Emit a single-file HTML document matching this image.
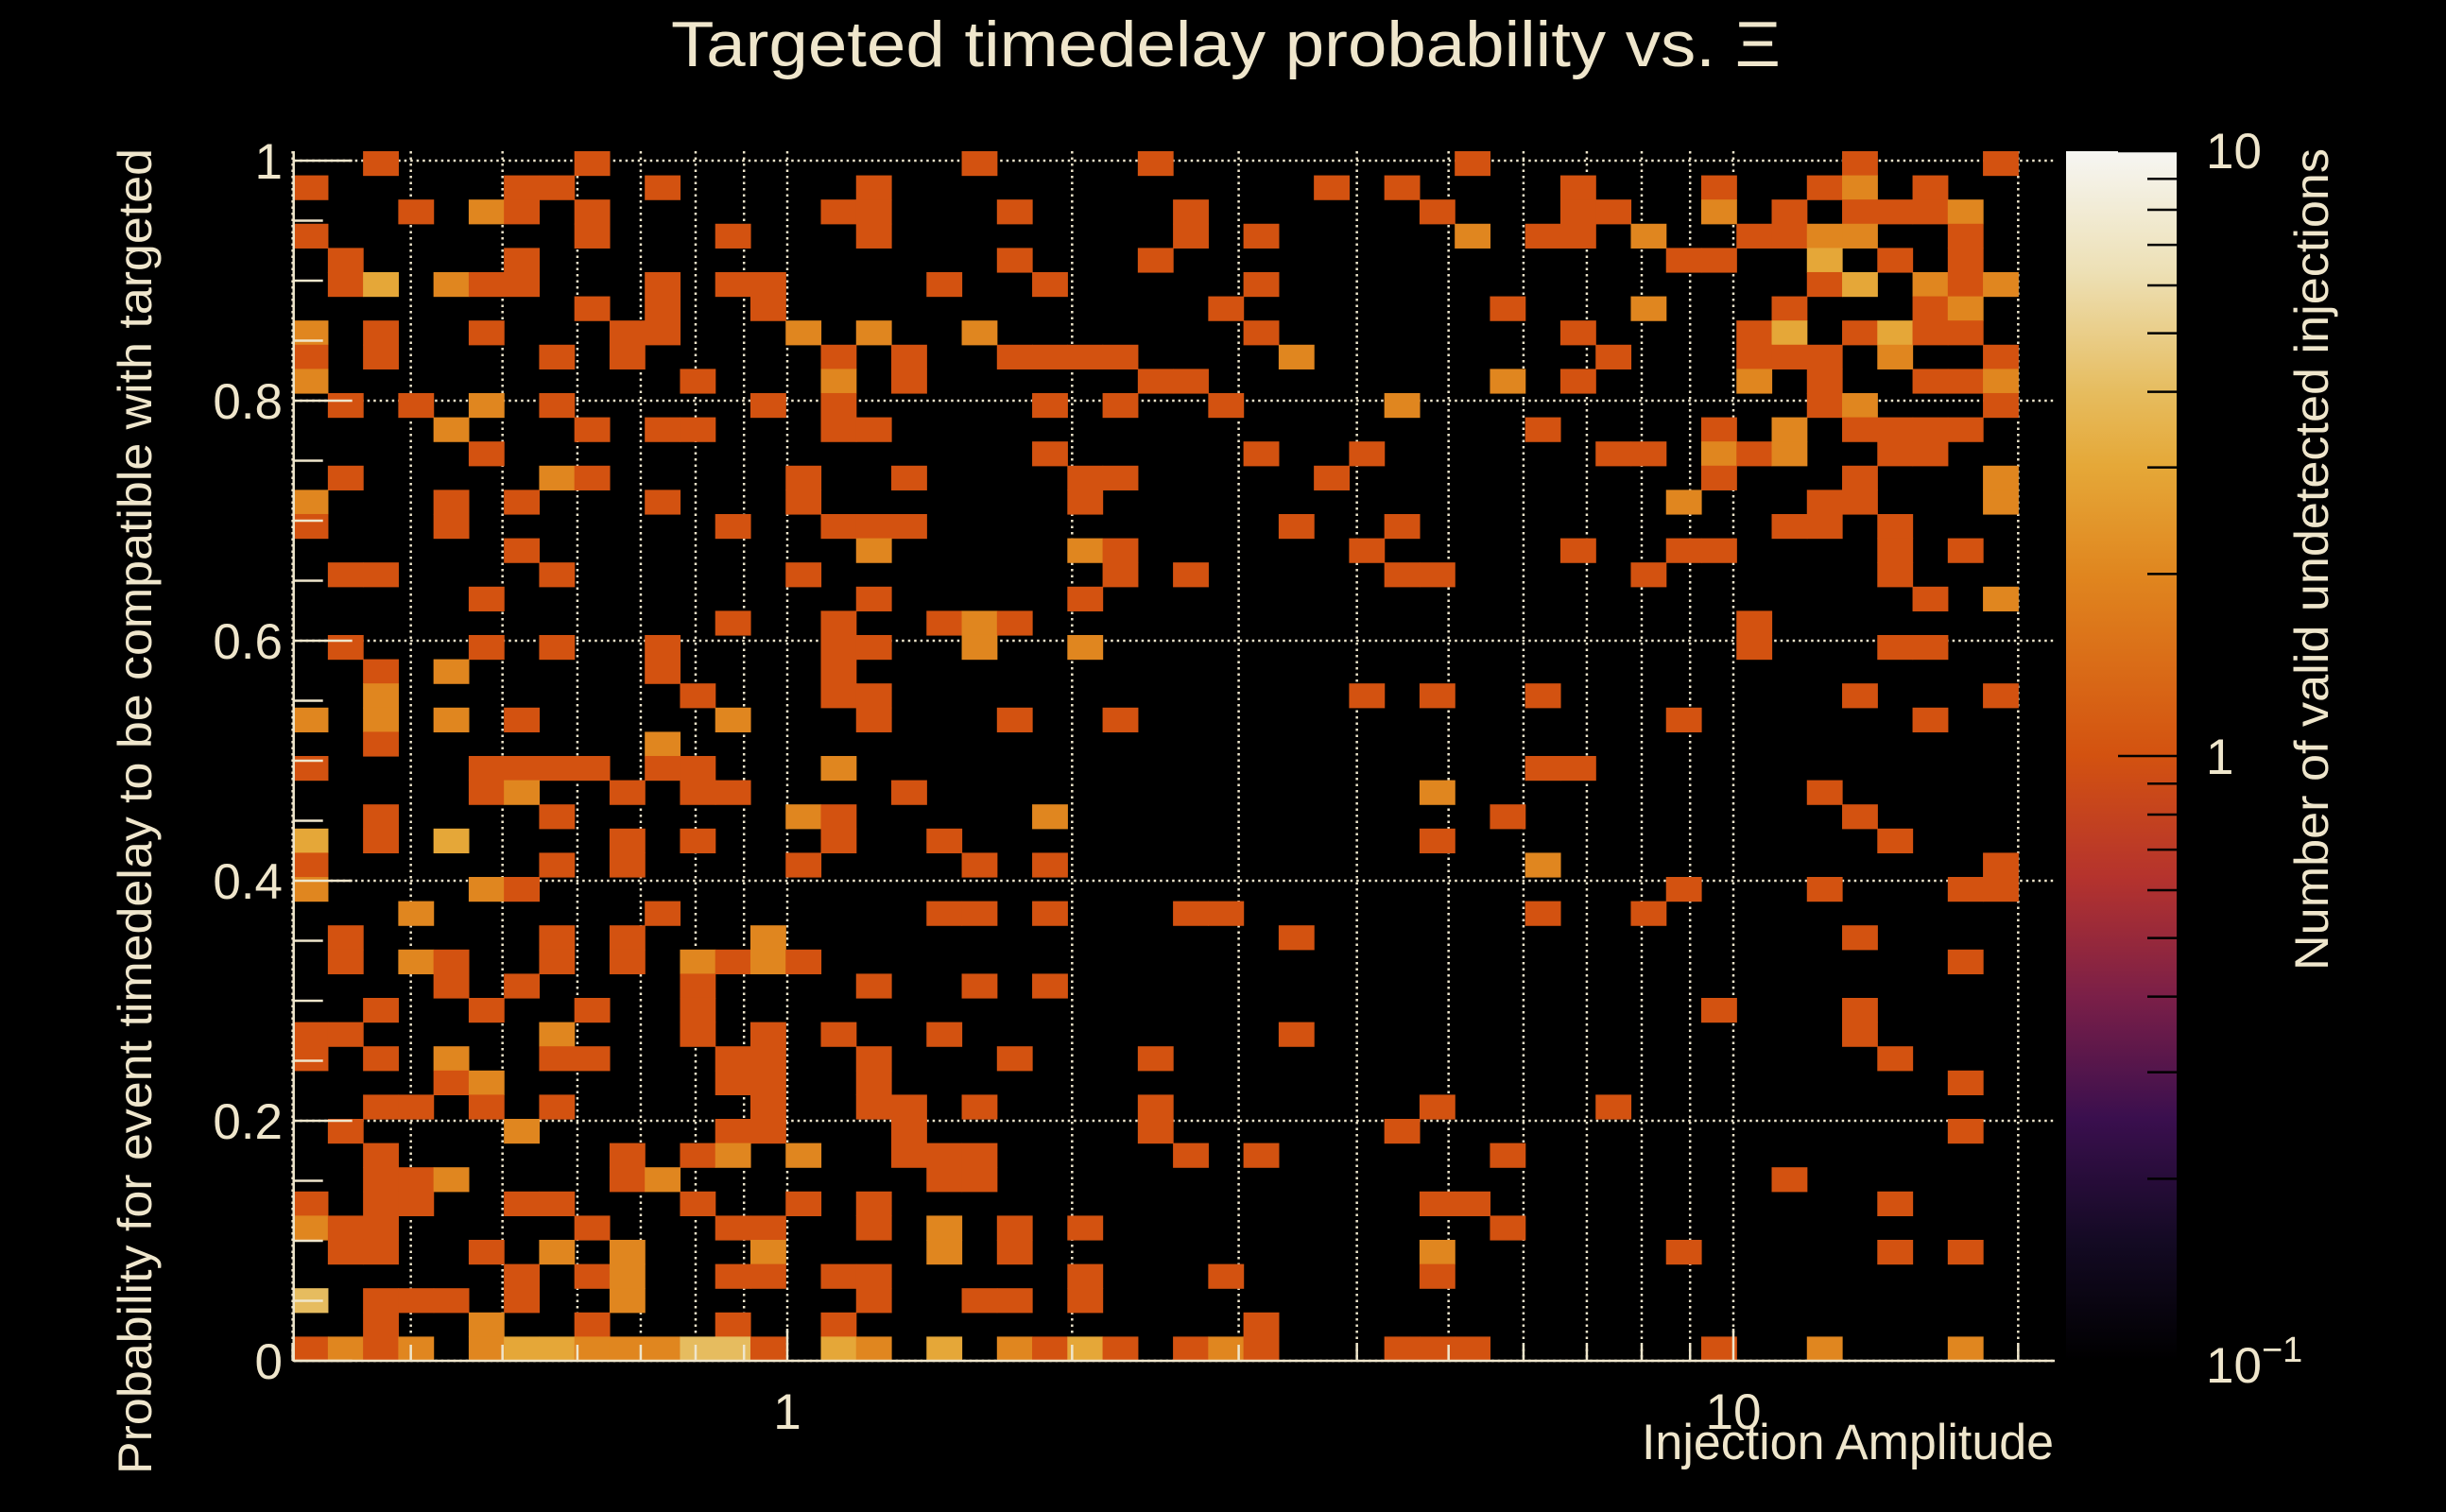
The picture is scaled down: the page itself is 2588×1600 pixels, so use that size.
<!DOCTYPE html>
<html><head><meta charset="utf-8"><title>Targeted timedelay probability</title>
<style>html,body{margin:0;padding:0;background:#000;}svg{display:block;}text{font-family:"Liberation Sans",sans-serif;fill:#efe6cc;}</style>
</head><body>
<svg id="chart" width="2588" height="1600" viewBox="0 0 2588 1600" xmlns="http://www.w3.org/2000/svg">
<rect x="0" y="0" width="2588" height="1600" fill="#000"/>
<defs>
<linearGradient id="cbar" x1="0" y1="1" x2="0" y2="0">
<stop offset="0" stop-color="#000000"/><stop offset="0.1" stop-color="#140a24"/><stop offset="0.2" stop-color="#3a0f4e"/>
<stop offset="0.3" stop-color="#7a1f48"/><stop offset="0.4" stop-color="#b5332d"/><stop offset="0.5" stop-color="#d35210"/>
<stop offset="0.65" stop-color="#e0861f"/><stop offset="0.74" stop-color="#e5a838"/><stop offset="0.8" stop-color="#e6bc5e"/>
<stop offset="0.9" stop-color="#ede0b5"/><stop offset="1" stop-color="#f6f6f3"/>
</linearGradient>
</defs>
<g id="grid"></g>
<g id="cells"></g>
<g id="axes"></g>
<rect x="2186" y="160" width="117" height="1280" fill="url(#cbar)"/>
<g id="cbticks"></g>
<text x="1297" y="70" font-size="68" text-anchor="middle" textLength="1174" lengthAdjust="spacingAndGlyphs">Targeted timedelay probability vs.  Ξ</text>
<text transform="translate(160,157) rotate(-90)" font-size="50" text-anchor="end" textLength="1403" lengthAdjust="spacingAndGlyphs">Probability for event timedelay to be compatible with targeted</text>
<text x="2173" y="1544" font-size="53" text-anchor="end" textLength="436" lengthAdjust="spacingAndGlyphs">Injection Amplitude</text>
<text transform="translate(2463,157) rotate(-90)" font-size="50" text-anchor="end" textLength="870" lengthAdjust="spacingAndGlyphs">Number of valid undetected injections</text>
<text x="2334" y="178" font-size="53">10</text>
<text x="2334" y="819" font-size="53">1</text>
<text x="2334" y="1463" font-size="53">10<tspan dy="-22" font-size="38">−1</tspan></text>
</svg>
<script>
// ---- data ----
const xMin = 0.3, xMax = 20, nCols = 49;
const yMin = 0, yMax = 1.0079, nRows = 50;
const yTickValues = [0, 0.2, 0.4, 0.6, 0.8, 1];
const yTickLabels = ["0", "0.2", "0.4", "0.6", "0.8", "1"];
const xMajorTicks = [1, 10];
const xMajorLabels = ["1", "10"];
const xMinorTicks = [0.3,0.4,0.5,0.6,0.7,0.8,0.9,2,3,4,5,6,7,8,9,20];
const zMin = 0.1, zMax = 10;
// rows from top (y ~ 1) to bottom (y ~ 0); entries "col" or "col:count"
const rowCounts = [
"2 8 19 24 33 44 48",
"0 6 7 10 16 29 31 36 40 43 44:2 46",
"3 5:2 6 8 15 16 20 25 32 36 37 40:2 42 44 45 46 47:2",
"0 8 12 16 25 27 33:2 35 36 38:2 41 42 43:2 44:2 47",
"1 6 20 24 39 40 43:3 45 47",
"1 2:3 4:2 5 6 10 12 13 18 21 27 43 44:3 46:2 47 48:2",
"8 10 13 26 34 38:2 42 46 47:2",
"0:2 2 5 9 10 14:2 16:2 19:2 27 36 41 42:3 44 45:3 46 47",
"0 2 7 9 15 17 20 21 22 23 28:2 37 41 42 43 45:2 48",
"0:2 11 15:2 17 24 25 34:2 36 41:2 43 46 47 48:2",
"1 3 5:2 7 13 15 21 23 26 31:2 43 44:2 48",
"4:2 8 10 11 15 16 35 40 42:2 44 45 46 47",
"5 21 27 30 37 38 40:2 41 42:2 45 46",
"1 7:2 8 14 17 22 23 29 40 44 48:2",
"0:2 4 6 10 14 22 39:2 43 44 48:2",
"0 4 12 15 16 17 28 31 42 43 45",
"6 16:2 22:2 23 30 36 39 40 45 47",
"1 2 7 14 23 25 31 32 38 45",
"5 16 22 46 48:2",
"12 15 18 19:2 20 41",
"1 5 7 10 15 16 19:2 22:2 41 45 46",
"2 4:2 10 15",
"2:2 11 15 16 30 32 35 44 48",
"0:2 2:2 4:2 6 12:2 16 20 23 39 46",
"2 10:2",
"0 5 6 7 8 10 11 15:2 35 36",
"5 6:2 9 11 12 17 32:2 43",
"2 7 14:2 15 21:2 34 44",
"0:3 2 4:3 9 11 15 18 32 45",
"0 7 9 14 19 21 35:2 48",
"0:2 5:2 6 39 43 47 48",
"3:2 10 18 19 21 25 26 35 38",
"1 7 9 13:2 28 44",
"1 3:2 4 7 9 11:2 12 13:2 14 47",
"4 6 11 16 19 21",
"2 5 8 11 40 44",
"0 1 7:2 11 13 15 18 28 44",
"0 2 4:2 7 8 12 13 16 20 24 45",
"4 5:2 12 13 16 47",
"2 3 5 7 13 16 17 19 24 32 37",
"1 6:2 12 13 17 24 31 47",
"2 9 11 12:2 14:2 17 18 19 25 27 34",
"2 3 4:2 9 10:2 18 19 42",
"0 2 3 6 7 11 14 16 32 33 45",
"0:2 1 2 8 12 13 16 18:2 20 22 34",
"1 2 5 7:2 9:2 13:2 18:2 20 32:2 39 45 47",
"6 8 9:2 12 13 15 16 22 26 32",
"0:4 2 3 4 6 9:2 16 19 20 22",
"2 5:2 8 12 15 27",
"0 1:2 2 3:2 5:2 6:3 7:3 8:2 9:2 10:2 11:4 12:4 13 15:3 16:2 18:3 20:2 21 22:3 23 25 26:2 27 31 32 33 40 43:2 47:2"
];
// ---- scales ----
const NS = "http://www.w3.org/2000/svg";
const pxPerDecade = 1001, xOrigin = 833;
function xPx(v){ return xOrigin + pxPerDecade*Math.log10(v); }
const plotLeft = 310.7, plotRight = 2174, plotTop = 160, plotBottom = 1440;
function yPx(v){ return 1440 - 1270*v; }
const cbTop = 160, cbBottom = 1440;
function zPos(v){ return (Math.log10(v)-Math.log10(zMin))/(Math.log10(zMax)-Math.log10(zMin)); }
const stops = [[0,[0,0,0]],[0.1,[20,10,36]],[0.2,[58,15,78]],[0.3,[122,31,72]],[0.4,[181,51,45]],[0.5,[211,82,16]],[0.65,[224,134,31]],[0.74,[229,168,56]],[0.8,[230,188,94]],[0.9,[237,224,181]],[1,[246,246,243]]];
function colorFor(n){
  let p = Math.max(0, Math.min(1, zPos(n)));
  for (let i=1;i<stops.length;i++){
    if (p <= stops[i][0]){
      const a=stops[i-1], b=stops[i], t=(p-a[0])/(b[0]-a[0]);
      const c=a[1].map((x,k)=>Math.round(x+(b[1][k]-x)*t));
      return "rgb("+c.join(",")+")";
    }
  }
  return "rgb(246,246,243)";
}
function mk(tag, attrs, parent){
  const el=document.createElementNS(NS,tag);
  for (const k in attrs) el.setAttribute(k, attrs[k]);
  parent.appendChild(el); return el;
}
const cream="#efe6cc";
// ---- grid ----
const grid=document.getElementById("grid");
xMinorTicks.concat(xMajorTicks).forEach(v=>{
  const x=xPx(v);
  const l=mk("line",{x1:x,x2:x,y1:plotTop,y2:plotBottom,stroke:cream,"stroke-width":2.5,"stroke-dasharray":"2.5 4"},grid);
  
  
});
yTickValues.forEach(v=>{
  const y=yPx(v);
  const l=mk("line",{x1:plotLeft,x2:plotRight,y1:y,y2:y,stroke:cream,"stroke-width":2.5,"stroke-dasharray":"2.5 4"},grid);
  
  
});
// ---- cells ----
const cells=document.getElementById("cells");
const lx0=Math.log10(xMin), lxw=(Math.log10(xMax)-Math.log10(xMin))/nCols, yw=(yMax-yMin)/nRows;
rowCounts.forEach((row,r)=>{
  row.split(" ").filter(s=>s).forEach(tok=>{
    const parts=tok.split(":"); const c=+parts[0]; const n=parts.length>1?+parts[1]:1;
    const x1=xPx(Math.pow(10,lx0+c*lxw)), x2=xPx(Math.pow(10,lx0+(c+1)*lxw));
    const yTopV=yMax-r*yw, yBotV=yMax-(r+1)*yw;
    const rect=mk("rect",{x:x1,y:yPx(yTopV),width:x2-x1+0.6,height:yPx(yBotV)-yPx(yTopV)+0.6,fill:colorFor(n)},cells);
    
    
  });
});
// ---- axes ----
const axes=document.getElementById("axes");
let a=mk("line",{x1:plotLeft,x2:plotLeft,y1:plotTop,y2:plotBottom+1,stroke:cream,"stroke-width":2.5},axes);


a=mk("line",{x1:plotLeft,x2:plotRight,y1:plotBottom,y2:plotBottom,stroke:cream,"stroke-width":2.5},axes);


for (let v=0; v<=1.0001; v+=0.05){
  const major=Math.abs(v*5-Math.round(v*5))<1e-6;
  const t=mk("line",{x1:plotLeft,x2:plotLeft+(major?62:31),y1:yPx(v),y2:yPx(v),stroke:cream,"stroke-width":2.5},axes);
  
  
}
yTickValues.forEach((v,i)=>{
  const t=mk("text",{x:299,y:yPx(v)+19,"font-size":53,"text-anchor":"end"},axes);
  t.textContent=yTickLabels[i];
  
  
});
xMinorTicks.forEach(v=>{
  const t=mk("line",{x1:xPx(v),x2:xPx(v),y1:plotBottom,y2:plotBottom-17,stroke:cream,"stroke-width":2.5},axes);
  
  
});
xMajorTicks.forEach((v,i)=>{
  const t=mk("line",{x1:xPx(v),x2:xPx(v),y1:plotBottom,y2:plotBottom-34,stroke:cream,"stroke-width":2.5},axes);
  
  
  const l=mk("text",{x:xPx(v),y:1512,"font-size":53,"text-anchor":"middle"},axes);
  l.textContent=xMajorLabels[i];
  
  
});
// ---- colour scale ticks ----
const cbt=document.getElementById("cbticks");
[0.1,1,10].forEach(dec=>{
  for (let m=1;m<=9;m++){
    const v=dec*m; if (v>zMax+1e-9) break;
    const y=cbBottom-(cbBottom-cbTop)*zPos(v);
    const major=(m===1);
    const t=mk("line",{x1:2303,x2:2303-(major?62:31),y1:y,y2:y,stroke:"#000","stroke-width":2.5},cbt);
    
    
  }
});
</script>
</body></html>
